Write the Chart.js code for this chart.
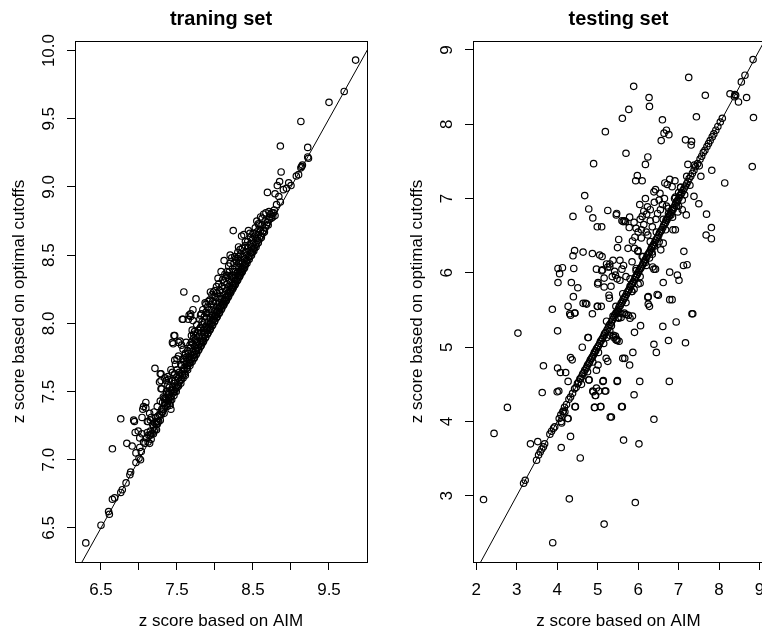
<!DOCTYPE html>
<html>
<head>
<meta charset="utf-8">
<script src="https://cdn.jsdelivr.net/npm/chart.js@4/dist/chart.umd.min.js"></script>
<style>
  html, body { margin: 0; padding: 0; background: #fff; overflow: hidden; width: 762px; height: 631px; }
  #left { position: absolute; left: 0; top: 0; }
  #right { position: absolute; left: 381px; top: 0; }
</style>
</head>
<body>
<canvas id="left" width="381" height="631"></canvas>
<canvas id="right" width="397" height="631"></canvas>
<script>
// axis text
const xTitle = 'z score based on AIM';
const yTitle = 'z score based on optimal cutoffs';
const panelTitles = ['traning set', 'testing set'];

// ticks
const trainXTicks = [6.5, 7, 7.5, 8, 8.5, 9, 9.5];
const trainXLabels = ['6.5', '', '7.5', '', '8.5', '', '9.5'];
const trainYTicks = [6.5, 7, 7.5, 8, 8.5, 9, 9.5, 10];
const trainYLabels = ['6.5', '7.0', '7.5', '8.0', '8.5', '9.0', '9.5', '10.0'];
const testXTicks = [2, 3, 4, 5, 6, 7, 8, 9];
const testXLabels = ['2', '3', '4', '5', '6', '7', '8', '9'];
const testYTicks = [3, 4, 5, 6, 7, 8, 9];
const testYLabels = ['3', '4', '5', '6', '7', '8', '9'];

// axis ranges
const trainRange = { x: [6.158, 10.0], y: [6.25, 10.07] };
const testRange = { x: [1.92, 9.11], y: [2.11, 9.12] };

// y = x reference line (abline 0,1)
const identityLine = [0, 12];

// training set: [AIM, optimal cutoffs]
const trainPoints = [
  [6.30,6.39],[6.50,6.52],[6.60,6.62],[6.61,6.60],[6.65,6.71],[6.68,6.72],[6.65,7.08],[6.76,7.30],
  [6.76,6.76],[6.78,6.78],[6.83,6.83],[6.84,7.12],[6.88,6.89],[6.89,6.91],[6.91,7.10],[6.93,7.29],
  [6.94,7.28],[6.95,7.20],[6.96,7.05],[6.96,6.98],[6.99,7.21],[7.00,7.01],[7.02,7.00],[7.01,7.16],
  [7.01,7.09],[7.03,7.06],[7.04,7.31],[7.05,7.37],[7.09,7.38],[7.09,7.42],[7.04,7.19],[7.06,7.13],
  [7.08,7.12],[7.10,7.16],[7.11,7.20],[7.12,7.28],[7.14,7.34],[7.16,7.31],[7.21,7.67],[7.21,7.22],
  [7.19,7.19],[7.23,7.26],[7.25,7.28],[7.28,7.63],[7.29,7.58],[7.29,7.52],[7.32,7.46],[7.28,7.43],
  [7.30,7.37],[7.34,7.60],[7.36,7.58],[7.38,7.55],[7.36,7.50],[7.39,7.45],[7.41,7.40],[7.42,7.37],
  [7.42,7.66],[7.45,7.85],[7.46,7.91],[7.47,7.73],[7.50,7.74],[7.52,7.86],[7.54,7.87],[7.57,8.03],
  [7.56,7.84],[7.58,7.81],[7.61,7.78],[7.65,8.03],[7.68,8.05],[7.71,8.02],[7.69,7.91],[7.72,7.92],
  [7.73,7.94],[7.81,8.06],[7.82,8.07],[7.59,8.23],[7.75,8.18],[7.88,8.14],[7.91,8.16],[7.94,8.23],
  [7.98,8.23],[7.88,8.08],[7.66,8.06],[7.71,8.10],[7.68,8.07],[7.58,8.03],[7.96,8.21],[7.99,8.20],
  [7.87,8.15],[7.44,7.86],[7.47,7.91],[7.29,7.63],[7.39,7.59],[7.27,7.57],[7.30,7.52],[7.39,7.49],
  [7.13,7.18],[7.16,7.15],[7.14,7.12],[7.23,7.22],[7.06,7.39],[7.11,7.28],[7.15,7.29],[7.20,7.35],
  [7.24,7.39],
  [8.24,8.68],[8.35,8.64],[8.38,8.65],[8.44,8.68],[8.46,8.66],[8.31,8.56],[8.33,8.54],[8.22,8.48],
  [8.20,8.50],[8.12,8.46],[8.13,8.36],[8.15,8.35],[8.69,8.96],[8.79,8.95],[8.84,8.93],[8.86,8.89],
  [8.81,8.87],[8.71,8.82],[8.77,8.81],[8.79,8.79],[8.82,9.01],[8.85,9.04],[8.87,9.11],[8.86,9.30],
  [8.97,9.03],[9.00,9.01],[8.94,8.99],[8.90,8.98],[9.10,9.09],[9.07,9.08],[9.13,9.14],[9.15,9.16],
  [9.14,9.15],[9.22,9.22],[9.23,9.21],[9.22,9.29],[9.13,9.48],[9.50,9.62],[9.70,9.70],[9.85,9.93],
  [8.04,8.33],[8.08,8.38],[8.02,8.27],[8.18,8.42],[8.27,8.47],[8.40,8.60],[8.55,8.75],[8.60,8.78],
  [8.64,8.80],[8.58,8.72],
  [7.12,7.13],[7.15,7.21],[7.17,7.19],[7.18,7.26],[7.20,7.21],[7.22,7.31],[7.24,7.26],[7.25,7.32],
  [7.26,7.28],[7.28,7.29],[7.30,7.35],[7.31,7.42],[7.33,7.34],[7.34,7.40],[7.35,7.45],[7.37,7.39],
  [7.38,7.43],[7.40,7.41],[7.40,7.48],[7.42,7.46],[7.43,7.44],[7.44,7.53],[7.45,7.49],[7.46,7.47],
  [7.47,7.56],[7.48,7.52],[7.49,7.50],[7.50,7.61],[7.51,7.55],[7.52,7.54],[7.53,7.64],[7.54,7.58],
  [7.55,7.56],[7.56,7.69],[7.57,7.62],[7.58,7.60],[7.59,7.72],[7.60,7.66],[7.61,7.62],[7.62,7.75],
  [7.63,7.67],[7.64,7.66],[7.65,7.78],[7.66,7.71],[7.67,7.69],[7.68,7.82],[7.69,7.74],[7.70,7.72],
  [7.71,7.85],[7.72,7.77],[7.73,7.75],[7.74,7.88],[7.75,7.80],[7.76,7.78],[7.77,7.93],[7.78,7.84],
  [7.79,7.81],[7.80,7.96],[7.81,7.87],[7.82,7.84],[7.83,7.99],[7.84,7.90],[7.85,7.87],[7.86,8.01],
  [7.87,7.93],[7.88,7.90],[7.89,8.04],[7.90,7.96],[7.91,7.93],[7.92,8.07],[7.93,7.99],[7.94,7.96],
  [7.95,8.10],[7.96,8.02],[7.97,7.99],[7.98,8.12],[7.99,8.05],[8.00,8.02],[8.01,8.15],[8.02,8.08],
  [8.03,8.05],[8.04,8.18],[8.05,8.11],[8.06,8.08],[8.07,8.20],[8.08,8.13],[8.09,8.11],[8.10,8.23],
  [8.11,8.16],[8.12,8.14],[8.13,8.26],[8.14,8.19],[8.15,8.17],[8.16,8.29],[8.17,8.22],[8.18,8.20],
  [8.19,8.32],[8.20,8.25],[8.21,8.23],[8.22,8.35],[8.23,8.28],[8.24,8.26],[8.25,8.38],[8.26,8.31],
  [8.27,8.29],[8.28,8.41],[8.29,8.34],[8.30,8.32],[8.31,8.44],[8.32,8.37],[8.33,8.35],[8.34,8.46],
  [8.35,8.40],[8.36,8.38],[8.37,8.49],[8.38,8.43],[8.39,8.41],[8.40,8.52],[8.41,8.46],[8.42,8.44],
  [8.43,8.55],[8.44,8.49],[8.45,8.47],[8.46,8.58],[8.47,8.52],[8.48,8.50],[8.49,8.61],[8.50,8.55],
  [8.51,8.53],[8.52,8.64],[8.53,8.58],[8.54,8.56],[8.55,8.67],[8.56,8.61],[8.57,8.59],[8.58,8.69],
  [8.60,8.64],[8.61,8.63],[8.62,8.72],[8.64,8.68],[8.65,8.67],[8.66,8.75],[8.68,8.72],[8.70,8.72],
  [8.72,8.78],[8.74,8.77],[8.76,8.78],
  [7.32,7.37],[7.36,7.44],[7.39,7.46],[7.41,7.43],[7.43,7.51],[7.45,7.51],[7.47,7.50],[7.48,7.58],
  [7.50,7.53],[7.52,7.60],[7.53,7.57],[7.55,7.63],[7.56,7.59],[7.58,7.65],[7.59,7.67],[7.60,7.63],
  [7.62,7.70],[7.63,7.72],[7.64,7.69],[7.66,7.75],[7.67,7.73],[7.68,7.71],[7.70,7.79],[7.71,7.77],
  [7.72,7.74],[7.73,7.83],[7.74,7.80],[7.75,7.77],[7.76,7.86],[7.77,7.82],[7.78,7.80],[7.79,7.90],
  [7.80,7.85],[7.81,7.83],[7.82,7.93],[7.83,7.87],[7.84,7.86],[7.85,7.95],[7.86,7.92],[7.87,7.89],
  [7.88,7.98],[7.89,7.95],[7.90,7.92],[7.91,8.01],[7.92,7.97],[7.93,7.95],[7.94,8.04],[7.95,8.00],
  [7.96,7.98],[7.97,8.06],[7.98,8.03],[7.99,8.01],[8.00,8.09],[8.01,8.06],[8.02,8.04],[8.03,8.12],
  [8.04,8.09],[8.05,8.07],[8.06,8.15],[8.07,8.12],[8.08,8.10],[8.09,8.18],[8.10,8.14],[8.11,8.13],
  [8.12,8.21],[8.13,8.17],[8.14,8.16],[8.15,8.24],[8.16,8.20],[8.17,8.19],[8.18,8.27],[8.19,8.23],
  [8.20,8.22],[8.21,8.30],[8.22,8.26],[8.23,8.25],[8.24,8.33],[8.25,8.29],[8.26,8.28],[8.27,8.35],
  [8.28,8.32],[8.29,8.31],[8.30,8.38],[8.31,8.35],[8.32,8.34],[8.33,8.41],[8.34,8.38],[8.35,8.37],
  [8.36,8.44],[8.37,8.40],[8.38,8.40],[8.39,8.47],[8.40,8.43],[8.42,8.50],[8.43,8.46],[8.45,8.53],
  [8.46,8.49],[8.48,8.56],[8.49,8.52],[8.51,8.59],[8.52,8.55],[8.54,8.62],[8.55,8.58],[8.57,8.65],
  [8.59,8.62],[8.60,8.68],[8.63,8.66],[8.66,8.70],[8.69,8.74],[8.71,8.76],[8.73,8.80],[8.75,8.81],
  [8.78,8.83],
  [7.15,7.18],[7.19,7.24],[7.21,7.27],[7.23,7.28],[7.27,7.33],[7.29,7.33],[7.31,7.35],[7.34,7.42],
  [7.37,7.41],
  [7.62,7.86],[7.70,7.95],[7.76,7.99],[7.80,8.03],[7.84,8.10],[7.90,8.12],[7.93,8.17],[8.00,8.24],
  [8.05,8.29],[8.10,8.32],[8.16,8.38],[8.20,8.44],[8.26,8.49],[8.30,8.52],[7.52,7.76],[7.48,7.70],
  [7.44,7.64],[7.38,7.61],
  [7.55,7.70],[7.58,7.74],[7.61,7.77],[7.64,7.80],[7.67,7.84],[7.69,7.86],[7.72,7.89],[7.75,7.91],
  [7.78,7.95],[7.81,7.97],[7.83,8.01],[7.86,8.05],[7.89,8.07],[7.92,8.10],[7.95,8.14],[7.97,8.16],
  [8.01,8.19],[8.03,8.22],[8.06,8.24],[8.09,8.27],[8.12,8.30],[8.14,8.33],[8.17,8.35],[8.19,8.38],
  [8.23,8.40],[8.25,8.44],[8.28,8.46],[8.31,8.49],[8.34,8.51],[8.36,8.55],[8.40,8.57],[8.43,8.60],
  [8.47,8.63],[8.50,8.66],[8.53,8.70],[8.57,8.73],[8.62,8.77],[8.67,8.81],[7.47,7.63],[7.50,7.66],
  [7.43,7.58],[7.40,7.53],[7.36,7.48],[7.33,7.45]
];

// testing set: [AIM, optimal cutoffs]
const testPoints = [
  [5.89,8.51],[7.25,8.63],[7.66,8.39],[6.27,8.36],[6.28,8.24],[5.77,8.20],[5.61,8.08],[5.19,7.90],
  [6.60,8.06],[6.70,7.92],[6.64,7.88],[6.57,7.78],[6.76,7.86],[5.70,7.61],[6.24,7.56],[6.18,7.46],
  [4.90,7.47],[5.98,7.31],[5.94,7.24],[6.10,7.24],[7.17,7.79],[7.32,7.77],[7.31,7.72],[7.44,8.10],
  [7.23,7.46],[7.39,7.45],[7.51,7.44],[7.55,7.30],[7.82,7.38],[8.14,7.21],[8.27,8.41],[8.38,8.37],
  [8.48,8.30],[8.68,8.36],[8.85,8.09],[8.82,7.43],[4.68,7.04],[4.78,6.86],[4.88,6.74],[4.99,6.62],
  [5.10,6.62],[5.25,6.84],[5.47,6.80],[5.60,6.70],[5.66,6.70],[5.79,6.75],[5.78,6.61],[5.90,6.68],
  [5.52,6.45],[5.49,6.34],[5.75,6.33],[5.91,6.33],[5.99,6.29],[6.08,6.47],[6.20,6.55],[6.24,6.51],
  [6.08,6.58],[6.69,6.71],[6.81,6.78],[6.86,6.58],[6.92,6.58],[7.13,6.29],[7.12,6.10],[7.21,6.11],
  [6.78,6.01],[6.97,5.97],[7.01,5.90],[6.62,5.87],[7.38,7.03],[7.50,6.93],[7.69,6.79],[7.81,6.61],
  [7.68,6.51],[7.81,6.46],[4.39,6.76],[4.43,6.30],[4.64,6.28],[4.87,6.26],[5.05,6.24],[5.11,6.22],
  [4.39,6.23],[4.02,6.06],[4.06,5.99],[4.02,5.87],[4.41,6.06],[4.35,5.87],[4.51,5.80],[4.40,5.68],
  [4.64,5.59],[4.70,5.59],[3.88,5.51],[4.31,5.45],[4.43,5.46],[4.87,5.45],[5.00,5.55],[5.09,5.55],
  [4.97,6.05],[5.10,6.03],[5.16,5.93],[5.25,6.08],[5.28,5.70],[5.29,5.66],[5.00,5.85],[6.78,5.64],
  [7.33,5.45],[6.43,7.12],[6.39,7.09],[6.54,7.07],[6.66,7.21],[6.78,7.26],[6.91,7.24],[6.72,7.19],
  [6.84,7.16],[5.46,6.78],[5.63,6.69],[5.69,6.69],[6.04,6.92],[6.18,7.00],[6.23,6.89],[6.14,6.83],
  [6.21,6.79],[7.09,6.98],[7.09,6.85],[7.19,6.78],[6.25,5.68],[6.47,5.71],[6.43,6.05],[6.39,6.05],
  [6.62,6.40],[6.56,6.31],[6.40,6.36],[6.34,6.28],[6.28,6.20],[6.18,6.14],[6.36,6.08],[5.22,6.12],
  [5.30,6.08],[5.38,6.17],[5.30,6.12],[5.12,6.04],[5.44,5.97],[5.55,5.90],[5.33,5.82],[5.16,5.81],
  [5.01,5.87],[4.13,6.07],
  [2.18,2.95],[2.44,3.84],[2.77,4.19],[3.03,5.19],[3.34,3.70],[3.52,3.73],[3.63,4.39],[3.66,4.75],
  [3.89,2.37],[4.01,5.22],[4.01,4.72],[4.04,4.41],[4.00,4.40],[4.08,4.66],[4.10,4.00],[4.21,4.66],
  [4.10,3.65],[4.27,4.54],[4.27,4.04],[4.30,2.96],[4.33,3.80],[4.33,4.86],[4.37,4.83],[4.45,4.20],
  [4.57,3.51],[4.62,5.00],[4.76,5.13],[4.78,4.56],[4.88,4.41],[4.94,4.35],[4.92,4.19],[5.07,4.20],
  [4.97,4.69],[5.01,4.76],[5.13,4.54],[5.18,4.41],[5.31,4.06],[5.21,4.85],[5.25,4.81],[5.48,4.54],
  [5.49,4.55],[5.64,3.75],[5.61,4.20],[5.67,4.85],[5.79,4.76],[5.87,4.93],[5.90,4.36],[5.93,2.91],
  [5.16,2.62],[6.02,3.70],[6.04,4.54],[5.91,5.20],[6.06,5.29],[6.39,4.03],[6.39,5.04],[6.45,4.93],
  [6.61,5.28],[6.75,5.09],[6.77,4.54],[6.94,5.34],[7.17,5.06],[7.35,5.45],[5.47,5.11],[5.48,5.09],
  [5.39,5.16],[5.44,5.15],[5.34,5.29],[5.03,4.41],[6.84,5.64],[6.24,5.67],[6.50,5.70],[6.25,5.58],
  [6.28,5.55],[4.15,4.14],[4.19,4.13],[4.11,3.98],[4.26,4.04],[4.44,4.20],[4.93,4.19],[5.08,4.20],
  [5.34,4.06],[5.59,4.20],[4.95,4.35],[4.89,4.40],[4.97,4.45],[5.20,4.41],[5.14,4.55],[4.79,4.56],
  [5.22,5.13],[5.30,5.16],[5.40,5.13],[5.45,5.10],[5.53,5.08],[5.62,4.85],[4.27,5.55],[4.33,5.43],
  [4.44,5.46],[4.73,5.58],[4.99,5.55],[4.77,5.13],
  [5.38,5.42],[5.45,5.46],[5.50,5.49],[5.55,5.46],[5.60,5.45],[5.66,5.46],[5.70,5.44],[5.76,5.43],
  [5.80,5.39],[5.86,5.42],[5.52,5.39],[5.58,5.40],
  [5.55,6.17],[5.60,6.05],[5.64,6.10],[5.48,5.92],[5.42,6.02],[5.36,5.95],[5.70,5.95],[5.80,5.82],
  [5.84,5.75],[5.90,5.78],[6.00,5.85],[6.05,5.86],[5.95,6.03],[6.12,6.22],[6.00,6.30],[5.85,6.15],
  [5.95,6.60],[6.00,6.55],[6.05,6.72],[6.10,6.76],[6.14,6.65],[5.86,6.43],[5.92,6.48],[6.30,6.70],
  [6.35,6.62],[6.44,6.72],[6.48,6.80],[6.55,6.85],[6.60,6.92],[6.52,6.98],[6.40,6.95],[6.30,6.85],
  [6.65,7.00],[6.70,6.90],[6.90,7.00],[6.95,6.90],[7.00,7.08],[7.05,7.15],[6.98,6.82],[6.86,6.85],
  [6.75,6.80],
  [3.17,3.17],[3.21,3.21],[3.49,3.48],[3.54,3.55],[3.58,3.59],[3.62,3.63],[3.66,3.66],[3.69,3.70],
  [3.82,3.83],[3.86,3.87],[3.91,3.91],[3.94,3.93],[4.05,4.04],[4.09,4.09],[4.14,4.13],[4.18,4.19],
  [4.23,4.23],[4.29,4.30],[4.33,4.33],[4.38,4.38],[4.43,4.44],[4.47,4.46],[4.50,4.51],[4.53,4.53],
  [4.56,4.57],[4.58,4.58],[4.61,4.61],[4.63,4.64],[4.66,4.66],[4.68,4.69],[4.71,4.71],[4.73,4.73],
  [4.75,4.76],[4.78,4.78],[4.80,4.80],[4.82,4.83],[4.85,4.85],[4.87,4.87],[4.90,4.90],[4.92,4.93],
  [4.95,4.95],[4.97,4.98],[5.00,5.00],[5.02,5.02],[5.05,5.05],[5.07,5.08],[5.10,5.10],[5.12,5.12],
  [5.15,5.15],[5.17,5.18],[5.20,5.20],[5.23,5.23],[5.26,5.26],[5.28,5.29],[5.31,5.31],[5.34,5.34],
  [5.37,5.37],[5.40,5.40],[5.42,5.43],[5.45,5.45],[5.48,5.48],[5.51,5.51],[5.53,5.54],[5.56,5.56],
  [5.58,5.59],[5.61,5.61],[5.63,5.64],[5.66,5.66],[5.68,5.68],[5.71,5.71],[5.73,5.74],[5.76,5.76],
  [5.78,5.78],[5.81,5.81],[5.83,5.84],[5.86,5.86],[5.88,5.88],[5.91,5.91],[5.93,5.94],[5.96,5.96],
  [5.98,5.98],[6.01,6.01],[6.03,6.04],[6.06,6.06],[6.08,6.08],[6.11,6.11],[6.13,6.14],[6.16,6.16],
  [6.18,6.18],[6.21,6.21],[6.23,6.24],[6.26,6.26],[6.28,6.28],[6.31,6.31],[6.33,6.34],[6.36,6.36],
  [6.38,6.38],[6.41,6.41],[6.43,6.44],[6.46,6.46],[6.48,6.48],[6.51,6.51],[6.53,6.54],[6.56,6.56],
  [6.58,6.58],[6.61,6.61],[6.63,6.64],[6.66,6.66],[6.68,6.68],[6.71,6.71],[6.73,6.74],[6.76,6.76],
  [6.78,6.78],[6.81,6.81],[6.83,6.84],[6.86,6.86],[6.88,6.88],[6.91,6.91],[6.93,6.94],[6.96,6.96],
  [6.98,6.98],[7.01,7.01],[7.03,7.04],[7.06,7.06],[7.08,7.08],[7.11,7.11],[7.14,7.14],[7.17,7.17],
  [7.20,7.20],[7.23,7.23],[7.26,7.27],[7.30,7.30],[7.34,7.34],[7.38,7.38],[7.42,7.43],[7.47,7.47],
  [7.53,7.53],[7.57,7.57],[7.61,7.62],[7.65,7.65],[7.70,7.70],[7.74,7.74],[7.78,7.78],[7.83,7.83],
  [7.87,7.87],[7.92,7.92],[7.97,7.97],[8.03,8.03],[8.08,8.08],[8.39,8.40],[8.41,8.39],[8.55,8.57],
  [8.64,8.66],[8.84,8.87],
  [4.60,4.50],[4.75,4.67],[4.88,4.80],[5.02,4.93],[5.15,5.05],[5.22,5.35],[5.30,5.22],[5.45,5.55],
  [5.50,5.40],[5.62,5.72],[5.70,5.60],[5.80,5.92],[5.85,5.75],[5.95,6.06],[6.05,5.95],[6.10,6.22],
  [6.20,6.10],[6.30,6.42],[6.35,6.25],[6.45,6.55],[6.52,6.42],[6.62,6.72],[6.68,6.58],[6.75,6.87],
  [6.85,6.75],[6.92,7.02],[7.00,6.90],[7.05,7.15],[7.15,7.05],[7.20,7.30],[7.28,7.18]
];

const family = '"Liberation Sans", Arial, Helvetica, sans-serif';

// box, panel title and rotated y tick labels (R style)
const rFrame = {
  id: 'rFrame',
  afterDraw(chart, args, opts) {
    const ctx = chart.ctx;
    const a = chart.chartArea;
    const ys = chart.scales.y;
    ctx.save();
    ctx.strokeStyle = '#000';
    ctx.lineWidth = 1;
    ctx.strokeRect(Math.round(a.left) + 0.5, Math.round(a.top) + 0.5,
      Math.round(a.right - a.left), Math.round(a.bottom - a.top));

    ctx.fillStyle = '#000';
    ctx.font = 'bold 20px ' + family;
    ctx.textAlign = 'center';
    ctx.textBaseline = 'alphabetic';
    ctx.fillText(opts.title, (a.left + a.right) / 2, 25);

    ctx.font = '17px ' + family;
    ys.ticks.forEach((t, i) => {
      const py = ys.getPixelForValue(t.value);
      ctx.save();
      ctx.translate(a.left - 21, py);
      ctx.rotate(-Math.PI / 2);
      ctx.fillText(opts.yLabels[i], 0, 0);
      ctx.restore();
    });
    ctx.restore();
  }
};

function makeChart(id, points, range, xTicks, xLabels, yTicks, yLabels, title, leftWidth, yTitlePad) {
  return new Chart(document.getElementById(id), {
    type: 'scatter',
    data: {
      datasets: [{
        data: points.map(p => ({ x: p[0], y: p[1] })),
        pointStyle: 'circle',
        pointRadius: 3.2,
        pointBorderWidth: 1.2,
        pointBorderColor: '#000',
        pointBackgroundColor: 'rgba(0,0,0,0)',
        showLine: false
      }, {
        type: 'line',
        data: identityLine.map(v => ({ x: v, y: v })),
        borderColor: '#000',
        borderWidth: 1,
        pointRadius: 0,
        fill: false
      }]
    },
    options: {
      responsive: false,
      animation: false,
      devicePixelRatio: 1,
      events: [],
      layout: { padding: { top: 41, right: 14, bottom: 0, left: 0 } },
      plugins: {
        legend: { display: false },
        tooltip: { enabled: false },
        rFrame: { title: title, yLabels: yLabels }
      },
      scales: {
        x: {
          type: 'linear',
          position: 'bottom',
          min: range.x[0],
          max: range.x[1],
          afterBuildTicks: s => { s.ticks = xTicks.map(v => ({ value: v })); },
          afterFit: s => { s.height = 69; },
          ticks: {
            autoSkip: false,
            maxRotation: 0,
            padding: 10,
            color: '#000',
            font: { family: family, size: 17 },
            callback: (v, i) => xLabels[i]
          },
          grid: { drawOnChartArea: false, drawTicks: true, tickLength: 8, color: '#000' },
          border: { display: false },
          title: {
            display: true,
            text: xTitle,
            color: '#000',
            font: { family: family, size: 17, lineHeight: 1 },
            padding: { top: 0, bottom: 1 }
          }
        },
        y: {
          type: 'linear',
          position: 'left',
          min: range.y[0],
          max: range.y[1],
          afterBuildTicks: s => { s.ticks = yTicks.map(v => ({ value: v })); },
          afterFit: s => { s.width = leftWidth; },
          ticks: { display: false },
          grid: { drawOnChartArea: false, drawTicks: true, tickLength: 8, color: '#000' },
          border: { display: false },
          title: {
            display: true,
            text: yTitle,
            color: '#000',
            font: { family: family, size: 17 },
            padding: { top: yTitlePad, bottom: 0 }
          }
        }
      }
    },
    plugins: [rFrame]
  });
}

makeChart('left', trainPoints, trainRange, trainXTicks, trainXLabels, trainYTicks, trainYLabels, panelTitles[0], 75, 9);
makeChart('right', testPoints, testRange, testXTicks, testXLabels, testYTicks, testYLabels, panelTitles[1], 92, 26);
</script>
</body>
</html>
